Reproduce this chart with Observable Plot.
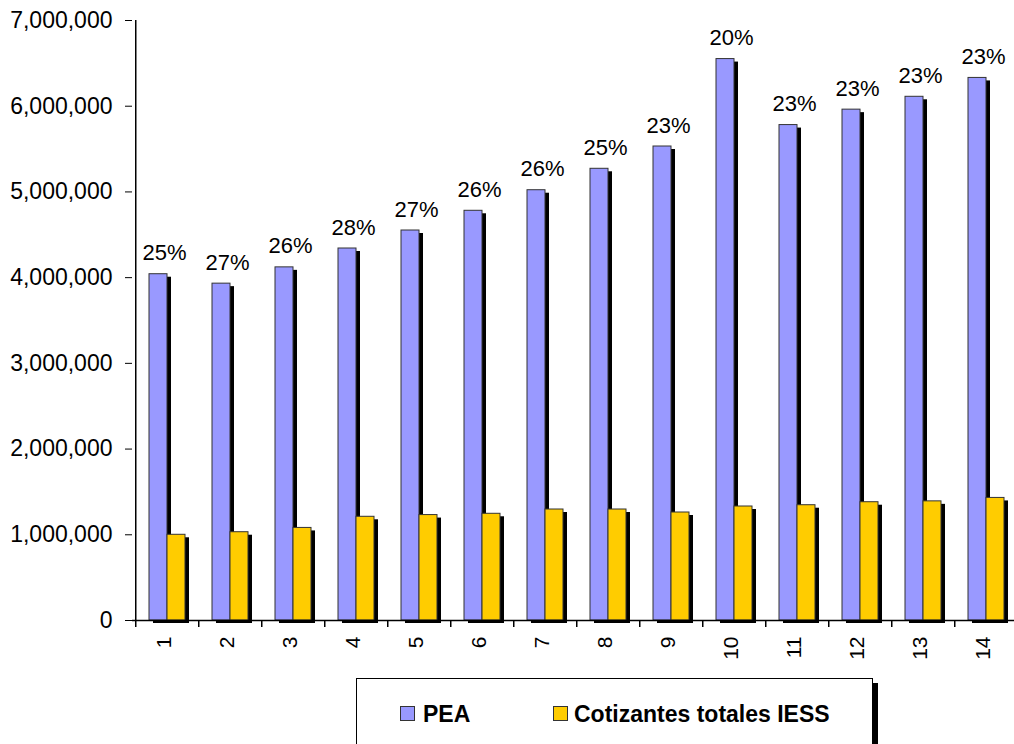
<!DOCTYPE html>
<html><head><meta charset="utf-8">
<script src="https://cdn.jsdelivr.net/npm/d3@7"></script>
<script src="https://cdn.jsdelivr.net/npm/@observablehq/plot@0.6"></script>
<style>
body{margin:0;background:#fff;font-family:"Liberation Sans",Arial,sans-serif;}
#wrap{position:relative;width:1014px;height:744px;overflow:hidden;}
#legend{position:absolute;left:356px;top:678px;width:515px;height:80px;border:1px solid #000;box-shadow:5px 5px 0 #000;background:#fff;}
.sw{position:absolute;top:27px;width:13px;height:13px;border:1px solid #333;}
.lt{position:absolute;top:24px;font-weight:bold;font-size:23px;line-height:22px;color:#000;white-space:nowrap;}
</style></head>
<body>
<div id="wrap"></div>
<script>
const categories = ["1","2","3","4","5","6","7","8","9","10","11","12","13","14"];
const pea = [4040000, 3930000, 4120000, 4340000, 4550000, 4780000, 5020000, 5270000, 5530000, 6550000, 5780000, 5960000, 6110000, 6330000];
const cotizantes = [1000000, 1030000, 1080000, 1210000, 1230000, 1245000, 1295000, 1295000, 1260000, 1330000, 1345000, 1380000, 1390000, 1430000];
const pctLabels = ["25%","27%","26%","28%","27%","26%","26%","25%","23%","20%","23%","23%","23%","23%"];
const yTicks = [0, 1000000, 2000000, 3000000, 4000000, 5000000, 6000000, 7000000];
const seriesNames = ["PEA", "Cotizantes totales IESS"];
const seriesColors = ["#9999FF", "#FFCC00"];

const rows = categories.map((c, i) => ({cat: c, pea: pea[i], cot: cotizantes[i], pct: pctLabels[i]}));

const step = (1021 - 132) / categories.length;

const chart = Plot.plot({
  width: 1014,
  height: 744,
  marginTop: 20,
  marginBottom: 124,
  marginLeft: 132,
  marginRight: 0,
  style: {fontFamily: "'Liberation Sans', Arial, sans-serif", fontSize: "23px", color: "#000", background: "transparent"},
  x: {domain: categories, range: [132, 1021], paddingInner: 0.433, paddingOuter: 0.2165, axis: null},
  y: {domain: [0, 7000000], ticks: yTicks, tickFormat: d3.format(","), tickSize: 7, tickPadding: 13, label: null},
  marks: [
    Plot.barY(rows, {x: "cat", y: "pea", insetRight: 18, dx: 4, dy: 3, fill: "#000"}),
    Plot.barY(rows, {x: "cat", y: "pea", insetRight: 18, fill: seriesColors[0], stroke: "#333", strokeWidth: 1}),
    Plot.barY(rows, {x: "cat", y: "cot", insetLeft: 18, dx: 4, dy: 3, fill: "#000"}),
    Plot.barY(rows, {x: "cat", y: "cot", insetLeft: 18, fill: seriesColors[1], stroke: "#333", strokeWidth: 1}),
    Plot.ruleY([0], {stroke: "#000", strokeWidth: 1.5}),
    Plot.ruleX([categories[0]], {x: d => d, dx: -step / 2, y1: yTicks[yTicks.length - 1], y2: 0, insetBottom: -7, stroke: "#000", strokeWidth: 1.5}),
    Plot.ruleX(categories.slice(1), {x: d => d, dx: -step / 2, y1: 0, y2: 0, insetBottom: -7, stroke: "#000", strokeWidth: 1.5}),
    Plot.text(rows, {x: "cat", y: "pea", text: "pct", dx: -3, dy: -14, lineAnchor: "bottom", fontSize: 22}),
    Plot.text(categories, {x: d => d, frameAnchor: "bottom", text: d => d, rotate: -90, textAnchor: "end", dy: 16, dx: 3, fontSize: 21})
  ]
});

const wrap = document.getElementById("wrap");
wrap.appendChild(chart);

const legend = document.createElement("div");
legend.id = "legend";
const swLeft = [43, 196];
const txtLeft = [66, 217];
seriesNames.forEach((name, i) => {
  const sw = document.createElement("div");
  sw.className = "sw";
  sw.style.left = swLeft[i] + "px";
  sw.style.background = seriesColors[i];
  legend.appendChild(sw);
  const t = document.createElement("div");
  t.className = "lt";
  t.style.left = txtLeft[i] + "px";
  t.textContent = name;
  legend.appendChild(t);
});
wrap.appendChild(legend);
</script>
</body></html>
